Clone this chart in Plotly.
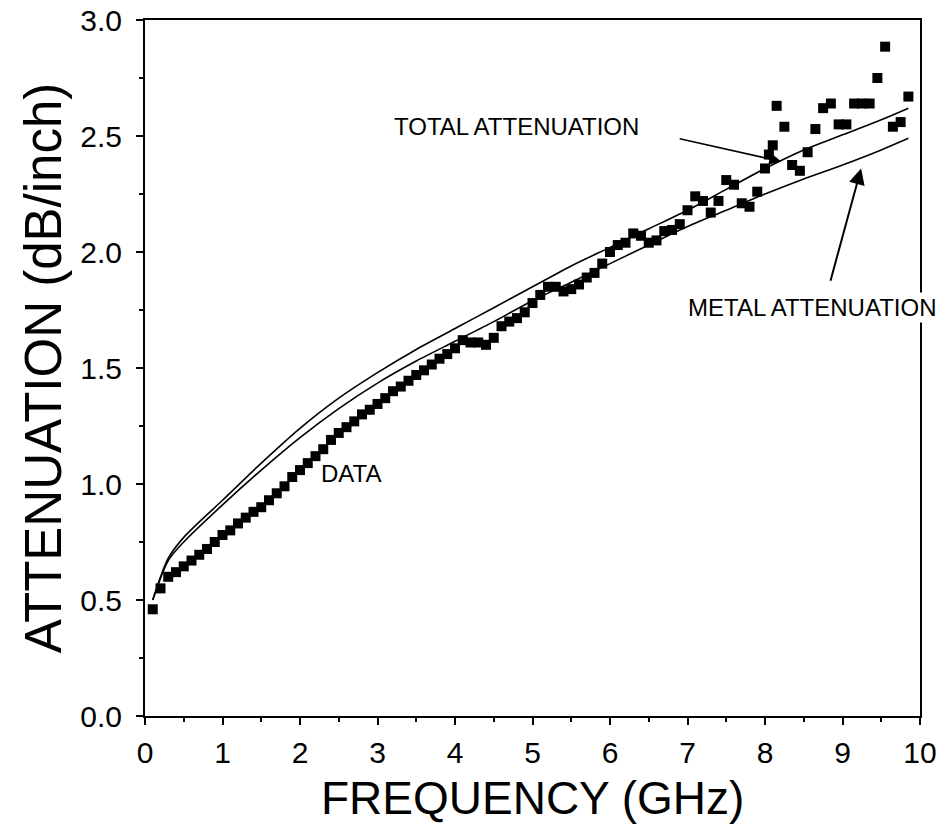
import plotly.graph_objects as go

# Measured data (squares)
data_freq = [0.1, 0.2, 0.3, 0.4, 0.5, 0.6, 0.7, 0.8, 0.9, 1.0,
             1.1, 1.2, 1.3, 1.4, 1.5, 1.6, 1.7, 1.8, 1.9, 2.0,
             2.1, 2.2, 2.3, 2.4, 2.5, 2.6, 2.7, 2.8, 2.9, 3.0,
             3.1, 3.2, 3.3, 3.4, 3.5, 3.6, 3.7, 3.8, 3.9, 4.0,
             4.1, 4.2, 4.3, 4.4, 4.5, 4.6, 4.7, 4.8, 4.9, 5.0,
             5.1, 5.2, 5.3, 5.4, 5.5, 5.6, 5.7, 5.8, 5.9, 6.0,
             6.1, 6.2, 6.3, 6.4, 6.5, 6.6, 6.7, 6.8, 6.9, 7.0,
             7.1, 7.2, 7.3, 7.4, 7.5, 7.6, 7.7, 7.8, 7.9, 8.0,
             8.05, 8.1, 8.15, 8.25, 8.35, 8.45, 8.55, 8.65, 8.75, 8.85,
             8.95, 9.05, 9.15, 9.25, 9.35, 9.45, 9.55, 9.65, 9.75, 9.85]
data_att = [0.46, 0.55, 0.60, 0.62, 0.645, 0.67, 0.695, 0.72, 0.75, 0.78,
            0.80, 0.83, 0.855, 0.88, 0.90, 0.93, 0.96, 0.99, 1.03, 1.06,
            1.09, 1.12, 1.15, 1.19, 1.22, 1.245, 1.27, 1.30, 1.32, 1.345,
            1.37, 1.40, 1.42, 1.445, 1.47, 1.49, 1.515, 1.54, 1.56, 1.585,
            1.62, 1.61, 1.61, 1.60, 1.63, 1.68, 1.70, 1.715, 1.74, 1.78,
            1.815, 1.85, 1.85, 1.83, 1.84, 1.86, 1.89, 1.91, 1.95, 2.00,
            2.03, 2.04, 2.08, 2.07, 2.04, 2.05, 2.09, 2.095, 2.12, 2.18,
            2.24, 2.22, 2.17, 2.22, 2.31, 2.29, 2.21, 2.195, 2.26, 2.36,
            2.42, 2.46, 2.63, 2.54, 2.375, 2.35, 2.43, 2.53, 2.62, 2.64,
            2.55, 2.55, 2.64, 2.64, 2.64, 2.75, 2.885, 2.54, 2.56, 2.67]

# Calculated curves
line_freq = [0.1, 0.3, 0.5, 1.0, 1.5, 2.0, 2.5, 3.0, 3.5, 4.0, 4.5,
             5.0, 5.5, 6.0, 6.5, 7.0, 7.5, 8.0, 8.5, 9.0, 9.5, 9.85]
total_att = [0.50, 0.68, 0.77, 0.93, 1.09, 1.24, 1.37, 1.48, 1.58, 1.67, 1.76,
             1.85, 1.94, 2.02, 2.10, 2.18, 2.27, 2.36, 2.44, 2.505, 2.57, 2.62]
metal_att = [0.50, 0.67, 0.75, 0.91, 1.06, 1.20, 1.325, 1.435, 1.53, 1.615, 1.70,
             1.79, 1.87, 1.95, 2.03, 2.11, 2.18, 2.25, 2.315, 2.375, 2.44, 2.49]

x_ticks = [0, 1, 2, 3, 4, 5, 6, 7, 8, 9, 10]
y_ticks = [0.0, 0.5, 1.0, 1.5, 2.0, 2.5, 3.0]

FONT = "Liberation Sans, Arial, sans-serif"

fig = go.Figure()
fig.add_trace(go.Scatter(x=line_freq, y=total_att, mode="lines",
                         line=dict(color="black", width=1.6, shape="spline", smoothing=0.8),
                         name="TOTAL ATTENUATION", showlegend=False))
fig.add_trace(go.Scatter(x=line_freq, y=metal_att, mode="lines",
                         line=dict(color="black", width=1.6, shape="spline", smoothing=0.8),
                         name="METAL ATTENUATION", showlegend=False))
fig.add_trace(go.Scatter(x=data_freq, y=data_att, mode="markers",
                         marker=dict(symbol="square", size=10, color="black"),
                         name="DATA", showlegend=False))

ann_font = dict(family=FONT, size=24, color="black")
fig.add_annotation(x=4.79, y=2.54, text="TOTAL ATTENUATION", showarrow=False, font=ann_font)
fig.add_annotation(x=8.6, y=1.76, text="METAL ATTENUATION", showarrow=False,
                   font=ann_font, bgcolor="white")
fig.add_annotation(x=2.66, y=1.047, text="DATA", showarrow=False, font=ann_font)

# arrows
fig.add_annotation(x=8.21, y=2.39, ax=6.88, ay=2.49, axref="x", ayref="y",
                   text="", showarrow=True, arrowhead=2, arrowsize=1.6,
                   arrowwidth=1.5, arrowcolor="black")
fig.add_annotation(x=9.24, y=2.36, ax=8.84, ay=1.87, axref="x", ayref="y",
                   text="", showarrow=True, arrowhead=2, arrowsize=1.6,
                   arrowwidth=2, arrowcolor="black")

# x-axis title placed below tick labels
fig.add_annotation(xref="paper", yref="paper", x=0.5, y=-0.158, yanchor="bottom",
                   text="FREQUENCY (GHz)", showarrow=False,
                   font=dict(family=FONT, size=46, color="black"))

fig.update_xaxes(range=[0, 10], tickvals=x_ticks, ticktext=[str(v) for v in x_ticks],
                 ticks="outside", ticklen=7, tickwidth=1.5, tickcolor="black",
                 minor=dict(dtick=0.5, ticks="outside", ticklen=4, tickcolor="black", tickwidth=1.5),
                 showline=True, linecolor="black", linewidth=2, mirror=True,
                 showgrid=False, zeroline=False,
                 tickfont=dict(family=FONT, size=30, color="black"),
                 ticklabelstandoff=2)
fig.update_yaxes(range=[0, 3], tickvals=y_ticks, ticktext=[f"{v:.1f}" for v in y_ticks],
                 ticks="outside", ticklen=7, tickwidth=1.5, tickcolor="black",
                 minor=dict(dtick=0.25, ticks="outside", ticklen=4, tickcolor="black", tickwidth=1.5),
                 showline=True, linecolor="black", linewidth=2, mirror=True,
                 showgrid=False, zeroline=False,
                 tickfont=dict(family=FONT, size=30, color="black"),
                 ticklabelstandoff=8,
                 title=dict(text="ATTENUATION (dB/inch)", font=dict(family=FONT, size=51, color="black"),
                            standoff=2))

fig.update_layout(width=945, height=828,
                  margin=dict(l=145, r=25, t=20, b=112, autoexpand=False),
                  plot_bgcolor="white", paper_bgcolor="white",
                  showlegend=False)

fig.write_html("out.html")
